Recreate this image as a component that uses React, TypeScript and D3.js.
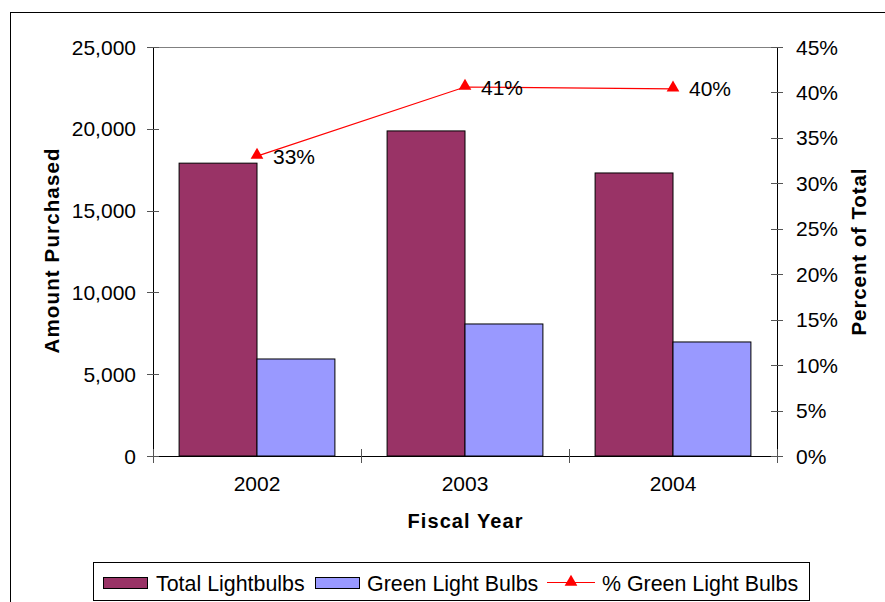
import React from "react";
import * as d3 from "d3";

const years = ["2002", "2003", "2004"];
const totalBulbs = [17900, 19870, 17300];
const greenBulbs = [5930, 8070, 6970];
const pctGreen = [0.33, 0.406, 0.404];
const pctLabels = ["33%", "41%", "40%"];
const leftTicks = [0, 5000, 10000, 15000, 20000, 25000];
const rightTicks = [0, 0.05, 0.1, 0.15, 0.2, 0.25, 0.3, 0.35, 0.4, 0.45];

const W = 885;
const H = 602;
const left = 153;
const right = 777;
const top = 47;
const bottom = 456;
const FONT = "Liberation Sans, Arial, sans-serif";
const FS = 21;
const MAROON = "#993366";
const PERI = "#9999FF";
const RED = "#FF0000";

export default function App() {
  const x = d3.scaleBand<string>().domain(years).range([left, right]).padding(0);
  const bw = x.bandwidth() / (2 + 0.67);
  const yL = d3.scaleLinear().domain([0, 25000]).range([bottom, top]);
  const yR = d3.scaleLinear().domain([0, 0.45]).range([bottom, top]);
  const fmt = d3.format(",");
  const pfmt = d3.format(".0%");
  const cx = (yr: string) => (x(yr) as number) + x.bandwidth() / 2;
  const line = d3
    .line<number>()
    .x((_, i) => cx(years[i]))
    .y((d) => yR(d));
  const tri = d3.symbol().type(d3.symbolTriangle).size(70);

  return (
    <svg width={W} height={H} style={{ position: "absolute", left: 0, top: 0 }}>
      <rect x={0} y={0} width={W} height={H} fill="#fff" />
      <rect x={10.5} y={12.5} width={890} height={620} fill="#fff" stroke="#000" strokeWidth={1} />
      <line x1={left} x2={right} y1={top + 0.5} y2={top + 0.5} stroke="#808080" />
      {years.map((yr, i) => {
        const x0 = (x(yr) as number) + bw * 0.335;
        return (
          <g key={yr}>
            <rect x={x0} y={yL(totalBulbs[i])} width={bw} height={bottom - yL(totalBulbs[i])} fill={MAROON} stroke="#000" strokeWidth={1} />
            <rect x={x0 + bw} y={yL(greenBulbs[i])} width={bw} height={bottom - yL(greenBulbs[i])} fill={PERI} stroke="#000" strokeWidth={1} />
          </g>
        );
      })}
      <line x1={left + 0.5} x2={left + 0.5} y1={top} y2={bottom} stroke="#000" />
      <line x1={right + 0.5} x2={right + 0.5} y1={top} y2={bottom} stroke="#000" />
      <line x1={left - 6} x2={right + 6} y1={bottom + 0.5} y2={bottom + 0.5} stroke="#000" />
      {leftTicks.map((t) => (
        <g key={"l" + t}>
          <line x1={left - 6} x2={left + 6} y1={Math.round(yL(t)) + 0.5} y2={Math.round(yL(t)) + 0.5} stroke="#555" />
          <text x={136} y={yL(t)} dy="0.36em" textAnchor="end" fontFamily={FONT} fontSize={FS}>
            {fmt(t)}
          </text>
        </g>
      ))}
      {rightTicks.map((t) => (
        <g key={"r" + t}>
          <line x1={right - 6} x2={right + 6} y1={Math.round(yR(t)) + 0.5} y2={Math.round(yR(t)) + 0.5} stroke="#555" />
          <text x={796} y={yR(t)} dy="0.36em" textAnchor="start" fontFamily={FONT} fontSize={FS}>
            {pfmt(t)}
          </text>
        </g>
      ))}
      {[...years.map((y) => x(y) as number), right].map((v, i) => (
        <line key={"b" + i} x1={Math.round(v) + 0.5} x2={Math.round(v) + 0.5} y1={bottom - 7} y2={bottom + 7} stroke="#555" />
      ))}
      {years.map((yr) => (
        <text key={"c" + yr} x={cx(yr)} y={491} textAnchor="middle" fontFamily={FONT} fontSize={FS}>
          {yr}
        </text>
      ))}
      <path d={line(pctGreen) || ""} fill="none" stroke={RED} strokeWidth={1.2} />
      {pctGreen.map((p, i) => (
        <g key={"p" + i}>
          <path d={tri() || ""} transform={`translate(${cx(years[i])},${yR(p) - 1})`} fill={RED} />
          <text x={cx(years[i]) + 16} y={yR(p)} dy="0.36em" fontFamily={FONT} fontSize={FS}>
            {pctLabels[i]}
          </text>
        </g>
      ))}
      <text transform="translate(59,251) rotate(-90)" textAnchor="middle" fontFamily={FONT} fontSize={20.5} fontWeight="bold" textLength={205} lengthAdjust="spacing">
        Amount Purchased
      </text>
      <text transform="translate(866,252) rotate(-90)" textAnchor="middle" fontFamily={FONT} fontSize={20.5} fontWeight="bold" textLength={167} lengthAdjust="spacing">
        Percent of Total
      </text>
      <text x={465} y={528} textAnchor="middle" fontFamily={FONT} fontSize={20} fontWeight="bold" textLength={115} lengthAdjust="spacing">
        Fiscal Year
      </text>
      <rect x={93.5} y={562.5} width={716} height={38} fill="#fff" stroke="#000" />
      <rect x={103.5} y={577.5} width={44} height={11} fill={MAROON} stroke="#000" />
      <text x={156} y={583} dy="0.36em" fontFamily={FONT} fontSize={21.4}>Total Lightbulbs</text>
      <rect x={315.5} y={577.5} width={44} height={11} fill={PERI} stroke="#000" />
      <text x={367} y={583} dy="0.36em" fontFamily={FONT} fontSize={21.4}>Green Light Bulbs</text>
      <line x1={547} x2={595} y1={582.5} y2={582.5} stroke={RED} strokeWidth={1.2} />
      <path d={tri() || ""} transform="translate(571,582)" fill={RED} />
      <text x={602} y={583} dy="0.36em" fontFamily={FONT} fontSize={21.4}>% Green Light Bulbs</text>
    </svg>
  );
}
